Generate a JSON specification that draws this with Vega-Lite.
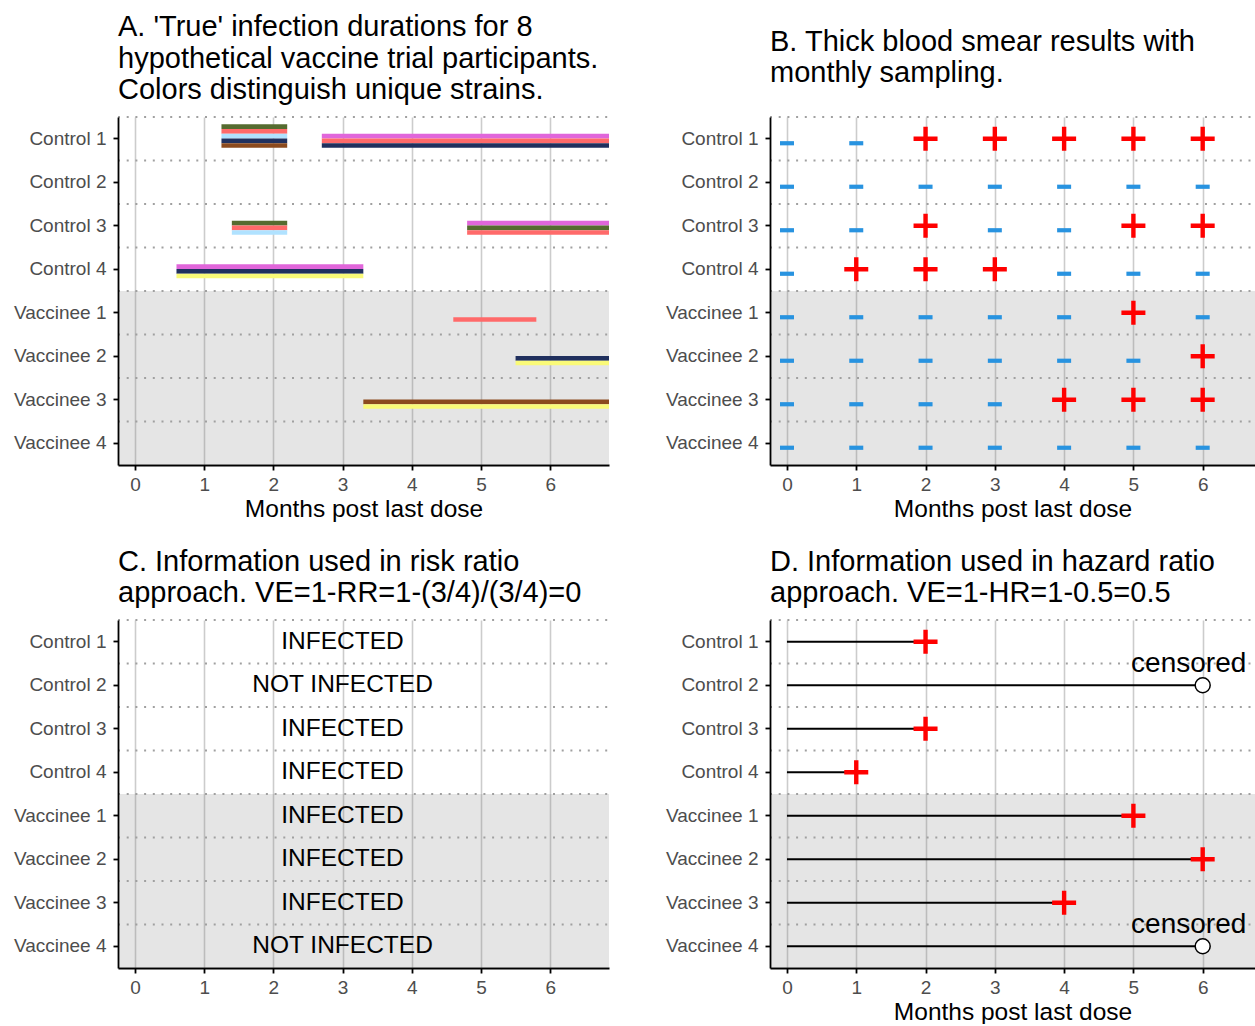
{
  "$schema": "https://vega.github.io/schema/vega-lite/v6.json",
  "padding": {"left": 10, "top": 13, "right": 0, "bottom": 0},
  "background": "white",
  "columns": 2,
  "spacing": {"row": 155, "column": 161},
  "bounds": "flush",
  "datasets": {
    "participants": [
      {"name": "Control 1", "group": "Control"},
      {"name": "Control 2", "group": "Control"},
      {"name": "Control 3", "group": "Control"},
      {"name": "Control 4", "group": "Control"},
      {"name": "Vaccinee 1", "group": "Vaccinee"},
      {"name": "Vaccinee 2", "group": "Vaccinee"},
      {"name": "Vaccinee 3", "group": "Vaccinee"},
      {"name": "Vaccinee 4", "group": "Vaccinee"}
    ],
    "strains": [
      {"name": "Control 1", "strain": "Strain 1", "start": 1.25, "end": 2.2, "level": 4},
      {"name": "Control 1", "strain": "Strain 2", "start": 1.25, "end": 2.2, "level": 3},
      {"name": "Control 1", "strain": "Strain 3", "start": 1.25, "end": 2.2, "level": 2},
      {"name": "Control 1", "strain": "Strain 4", "start": 1.25, "end": 2.2, "level": 1},
      {"name": "Control 1", "strain": "Strain 5", "start": 1.25, "end": 2.2, "level": 0},
      {"name": "Control 1", "strain": "Strain 6", "start": 2.7, "end": 6.85, "level": 2},
      {"name": "Control 1", "strain": "Strain 2", "start": 2.7, "end": 6.85, "level": 1},
      {"name": "Control 1", "strain": "Strain 4", "start": 2.7, "end": 6.85, "level": 0},
      {"name": "Control 3", "strain": "Strain 1", "start": 1.4, "end": 2.2, "level": 2},
      {"name": "Control 3", "strain": "Strain 2", "start": 1.4, "end": 2.2, "level": 1},
      {"name": "Control 3", "strain": "Strain 3", "start": 1.4, "end": 2.2, "level": 0},
      {"name": "Control 3", "strain": "Strain 6", "start": 4.8, "end": 6.85, "level": 2},
      {"name": "Control 3", "strain": "Strain 1", "start": 4.8, "end": 6.85, "level": 1},
      {"name": "Control 3", "strain": "Strain 2", "start": 4.8, "end": 6.85, "level": 0},
      {"name": "Control 4", "strain": "Strain 6", "start": 0.6, "end": 3.3, "level": 2},
      {"name": "Control 4", "strain": "Strain 4", "start": 0.6, "end": 3.3, "level": 1},
      {"name": "Control 4", "strain": "Strain 7", "start": 0.6, "end": 3.3, "level": 0},
      {"name": "Vaccinee 1", "strain": "Strain 2", "start": 4.6, "end": 5.8, "level": 0},
      {"name": "Vaccinee 2", "strain": "Strain 4", "start": 5.5, "end": 6.85, "level": 1},
      {"name": "Vaccinee 2", "strain": "Strain 7", "start": 5.5, "end": 6.85, "level": 0},
      {"name": "Vaccinee 3", "strain": "Strain 5", "start": 3.3, "end": 6.85, "level": 1},
      {"name": "Vaccinee 3", "strain": "Strain 7", "start": 3.3, "end": 6.85, "level": 0}
    ],
    "smear": [
      {"name": "Control 1", "month": 0, "result": "-"},
      {"name": "Control 1", "month": 1, "result": "-"},
      {"name": "Control 1", "month": 2, "result": "+"},
      {"name": "Control 1", "month": 3, "result": "+"},
      {"name": "Control 1", "month": 4, "result": "+"},
      {"name": "Control 1", "month": 5, "result": "+"},
      {"name": "Control 1", "month": 6, "result": "+"},
      {"name": "Control 2", "month": 0, "result": "-"},
      {"name": "Control 2", "month": 1, "result": "-"},
      {"name": "Control 2", "month": 2, "result": "-"},
      {"name": "Control 2", "month": 3, "result": "-"},
      {"name": "Control 2", "month": 4, "result": "-"},
      {"name": "Control 2", "month": 5, "result": "-"},
      {"name": "Control 2", "month": 6, "result": "-"},
      {"name": "Control 3", "month": 0, "result": "-"},
      {"name": "Control 3", "month": 1, "result": "-"},
      {"name": "Control 3", "month": 2, "result": "+"},
      {"name": "Control 3", "month": 3, "result": "-"},
      {"name": "Control 3", "month": 4, "result": "-"},
      {"name": "Control 3", "month": 5, "result": "+"},
      {"name": "Control 3", "month": 6, "result": "+"},
      {"name": "Control 4", "month": 0, "result": "-"},
      {"name": "Control 4", "month": 1, "result": "+"},
      {"name": "Control 4", "month": 2, "result": "+"},
      {"name": "Control 4", "month": 3, "result": "+"},
      {"name": "Control 4", "month": 4, "result": "-"},
      {"name": "Control 4", "month": 5, "result": "-"},
      {"name": "Control 4", "month": 6, "result": "-"},
      {"name": "Vaccinee 1", "month": 0, "result": "-"},
      {"name": "Vaccinee 1", "month": 1, "result": "-"},
      {"name": "Vaccinee 1", "month": 2, "result": "-"},
      {"name": "Vaccinee 1", "month": 3, "result": "-"},
      {"name": "Vaccinee 1", "month": 4, "result": "-"},
      {"name": "Vaccinee 1", "month": 5, "result": "+"},
      {"name": "Vaccinee 1", "month": 6, "result": "-"},
      {"name": "Vaccinee 2", "month": 0, "result": "-"},
      {"name": "Vaccinee 2", "month": 1, "result": "-"},
      {"name": "Vaccinee 2", "month": 2, "result": "-"},
      {"name": "Vaccinee 2", "month": 3, "result": "-"},
      {"name": "Vaccinee 2", "month": 4, "result": "-"},
      {"name": "Vaccinee 2", "month": 5, "result": "-"},
      {"name": "Vaccinee 2", "month": 6, "result": "+"},
      {"name": "Vaccinee 3", "month": 0, "result": "-"},
      {"name": "Vaccinee 3", "month": 1, "result": "-"},
      {"name": "Vaccinee 3", "month": 2, "result": "-"},
      {"name": "Vaccinee 3", "month": 3, "result": "-"},
      {"name": "Vaccinee 3", "month": 4, "result": "+"},
      {"name": "Vaccinee 3", "month": 5, "result": "+"},
      {"name": "Vaccinee 3", "month": 6, "result": "+"},
      {"name": "Vaccinee 4", "month": 0, "result": "-"},
      {"name": "Vaccinee 4", "month": 1, "result": "-"},
      {"name": "Vaccinee 4", "month": 2, "result": "-"},
      {"name": "Vaccinee 4", "month": 3, "result": "-"},
      {"name": "Vaccinee 4", "month": 4, "result": "-"},
      {"name": "Vaccinee 4", "month": 5, "result": "-"},
      {"name": "Vaccinee 4", "month": 6, "result": "-"}
    ],
    "risk": [
      {"name": "Control 1", "status": "INFECTED"},
      {"name": "Control 2", "status": "NOT INFECTED"},
      {"name": "Control 3", "status": "INFECTED"},
      {"name": "Control 4", "status": "INFECTED"},
      {"name": "Vaccinee 1", "status": "INFECTED"},
      {"name": "Vaccinee 2", "status": "INFECTED"},
      {"name": "Vaccinee 3", "status": "INFECTED"},
      {"name": "Vaccinee 4", "status": "NOT INFECTED"}
    ],
    "hazard": [
      {"name": "Control 1", "start": 0, "time": 2, "outcome": "infected"},
      {"name": "Control 2", "start": 0, "time": 6, "outcome": "censored"},
      {"name": "Control 3", "start": 0, "time": 2, "outcome": "infected"},
      {"name": "Control 4", "start": 0, "time": 1, "outcome": "infected"},
      {"name": "Vaccinee 1", "start": 0, "time": 5, "outcome": "infected"},
      {"name": "Vaccinee 2", "start": 0, "time": 6, "outcome": "infected"},
      {"name": "Vaccinee 3", "start": 0, "time": 4, "outcome": "infected"},
      {"name": "Vaccinee 4", "start": 0, "time": 6, "outcome": "censored"}
    ]
  },
  "concat": [
    {
      "width": 491, "height": 348,
      "title": {"text": ["A. 'True' infection durations for 8", "hypothetical vaccine trial participants.", "Colors distinguish unique strains."], "offset": 11},
      "layer": [
        {"data": {"name": "participants"}, "transform": [{"filter": "datum.group == 'Vaccinee'"}],
         "mark": {"type": "rect", "fill": "#7F7F7F", "opacity": 0.2},
         "encoding": {"y": {"field": "name", "type": "nominal", "title": null, "scale": {"domain": ["Control 1","Control 2","Control 3","Control 4","Vaccinee 1","Vaccinee 2","Vaccinee 3","Vaccinee 4"], "paddingInner": 0, "paddingOuter": 0}},
                      "x": {"value": 0}, "x2": {"value": "width"}}},
        {"data": {"name": "participants"},
         "mark": {"type": "rule", "color": "#A0A0A0", "strokeWidth": 2, "strokeDash": [2, 6.7]},
         "encoding": {"y": {"field": "name", "type": "nominal", "title": null, "bandPosition": 0}, "x": {"value": 0}, "x2": {"value": "width"}}},
        {"data": {"name": "strains"},
         "mark": {"type": "bar", "clip": true},
         "encoding": {
           "y": {"field": "name", "type": "nominal", "title": null},
           "yOffset": {"field": "level", "type": "ordinal", "scale": {"domain": [4,3,2,1,0], "range": [7.35, 30.85], "paddingInner": 0, "paddingOuter": 0}},
           "x": {"field": "start", "type": "quantitative", "title": "Months post last dose", "scale": {"domain": [-0.245, 6.85], "nice": false, "zero": false}, "axis": {"values": [0,1,2,3,4,5,6], "format": "d", "grid": true}},
           "x2": {"field": "end"},
           "color": {"field": "strain", "type": "nominal", "legend": null, "scale": {"domain": ["Strain 1","Strain 2","Strain 3","Strain 4","Strain 5","Strain 6","Strain 7"], "range": ["#556B2F","#FF6A6A","#B0E2FF","#20305E","#8B4A1E","#E066DA","#FAFA78"]}}
         }}
      ]
    },
    {
      "width": 485, "height": 348,
      "title": {"text": ["B. Thick blood smear results with", "monthly sampling."], "offset": 28},
      "layer": [
        {"data": {"name": "participants"}, "transform": [{"filter": "datum.group == 'Vaccinee'"}],
         "mark": {"type": "rect", "fill": "#7F7F7F", "opacity": 0.2},
         "encoding": {"y": {"field": "name", "type": "nominal", "title": null, "scale": {"domain": ["Control 1","Control 2","Control 3","Control 4","Vaccinee 1","Vaccinee 2","Vaccinee 3","Vaccinee 4"], "paddingInner": 0, "paddingOuter": 0}},
                      "x": {"value": 0}, "x2": {"value": "width"}}},
        {"data": {"name": "participants"},
         "mark": {"type": "rule", "color": "#A0A0A0", "strokeWidth": 2, "strokeDash": [2, 6.7]},
         "encoding": {"y": {"field": "name", "type": "nominal", "title": null, "bandPosition": 0}, "x": {"value": 0}, "x2": {"value": "width"}}},
        {"data": {"name": "smear"}, "transform": [{"filter": "datum.result == '-'"}],
         "mark": {"type": "point", "shape": "M-1,0H1", "filled": false, "color": "#2893E0", "strokeWidth": 4.2, "size": 196, "opacity": 1, "yOffset": 4.5},
         "encoding": {
           "y": {"field": "name", "type": "nominal", "title": null},
           "x": {"field": "month", "type": "quantitative", "title": "Months post last dose", "scale": {"domain": [-0.245, 6.755], "nice": false, "zero": false}, "axis": {"values": [0,1,2,3,4,5,6], "format": "d", "grid": true}}
         }},
        {"data": {"name": "smear"}, "transform": [{"filter": "datum.result == '+'"}],
         "mark": {"type": "point", "shape": "M-1,0H1M0,-1V1", "filled": false, "color": "#FF0000", "strokeWidth": 4.4, "size": 576, "opacity": 1},
         "encoding": {
           "y": {"field": "name", "type": "nominal", "title": null},
           "x": {"field": "month", "type": "quantitative", "title": "Months post last dose"}
         }}
      ]
    },
    {
      "width": 491, "height": 348,
      "title": {"text": ["C. Information used in risk ratio", "approach. VE=1-RR=1-(3/4)/(3/4)=0"], "offset": 11},
      "layer": [
        {"data": {"name": "participants"}, "transform": [{"filter": "datum.group == 'Vaccinee'"}],
         "mark": {"type": "rect", "fill": "#7F7F7F", "opacity": 0.2},
         "encoding": {"y": {"field": "name", "type": "nominal", "title": null, "scale": {"domain": ["Control 1","Control 2","Control 3","Control 4","Vaccinee 1","Vaccinee 2","Vaccinee 3","Vaccinee 4"], "paddingInner": 0, "paddingOuter": 0}},
                      "x": {"value": 0}, "x2": {"value": "width"}}},
        {"data": {"name": "participants"},
         "mark": {"type": "rule", "color": "#A0A0A0", "strokeWidth": 2, "strokeDash": [2, 6.7]},
         "encoding": {"y": {"field": "name", "type": "nominal", "title": null, "bandPosition": 0}, "x": {"value": 0}, "x2": {"value": "width"}}},
        {"data": {"name": "risk"},
         "mark": {"type": "text", "fontSize": 24.5, "color": "black", "align": "center", "baseline": "middle"},
         "encoding": {
           "y": {"field": "name", "type": "nominal", "title": null},
           "x": {"datum": 3, "type": "quantitative", "title": "Months post last dose", "scale": {"domain": [-0.245, 6.85], "nice": false, "zero": false}, "axis": {"values": [0,1,2,3,4,5,6], "format": "d", "grid": true}},
           "text": {"field": "status"}
         }}
      ]
    },
    {
      "width": 485, "height": 348,
      "title": {"text": ["D. Information used in hazard ratio", "approach. VE=1-HR=1-0.5=0.5"], "offset": 11},
      "layer": [
        {"data": {"name": "participants"}, "transform": [{"filter": "datum.group == 'Vaccinee'"}],
         "mark": {"type": "rect", "fill": "#7F7F7F", "opacity": 0.2},
         "encoding": {"y": {"field": "name", "type": "nominal", "title": null, "scale": {"domain": ["Control 1","Control 2","Control 3","Control 4","Vaccinee 1","Vaccinee 2","Vaccinee 3","Vaccinee 4"], "paddingInner": 0, "paddingOuter": 0}},
                      "x": {"value": 0}, "x2": {"value": "width"}}},
        {"data": {"name": "participants"},
         "mark": {"type": "rule", "color": "#A0A0A0", "strokeWidth": 2, "strokeDash": [2, 6.7]},
         "encoding": {"y": {"field": "name", "type": "nominal", "title": null, "bandPosition": 0}, "x": {"value": 0}, "x2": {"value": "width"}}},
        {"data": {"name": "hazard"},
         "mark": {"type": "rule", "color": "black", "strokeWidth": 2},
         "encoding": {
           "y": {"field": "name", "type": "nominal", "title": null},
           "x": {"field": "start", "type": "quantitative", "title": "Months post last dose", "scale": {"domain": [-0.245, 6.755], "nice": false, "zero": false}, "axis": {"values": [0,1,2,3,4,5,6], "format": "d", "grid": true}},
           "x2": {"field": "time"}
         }},
        {"data": {"name": "hazard"}, "transform": [{"filter": "datum.outcome == 'infected'"}],
         "mark": {"type": "point", "shape": "M-1,0H1M0,-1V1", "filled": false, "color": "#FF0000", "strokeWidth": 4.4, "size": 576, "opacity": 1},
         "encoding": {
           "y": {"field": "name", "type": "nominal", "title": null},
           "x": {"field": "time", "type": "quantitative", "title": "Months post last dose"}
         }},
        {"data": {"name": "hazard"}, "transform": [{"filter": "datum.outcome == 'censored'"}],
         "mark": {"type": "point", "shape": "circle", "filled": true, "fill": "white", "stroke": "black", "strokeWidth": 1.5, "size": 225, "opacity": 1},
         "encoding": {
           "y": {"field": "name", "type": "nominal", "title": null},
           "x": {"field": "time", "type": "quantitative", "title": "Months post last dose"}
         }},
        {"data": {"name": "hazard"}, "transform": [{"filter": "datum.outcome == 'censored'"}],
         "mark": {"type": "text", "fontSize": 28, "color": "black", "align": "center", "baseline": "middle", "dx": -14, "dy": -21},
         "encoding": {
           "y": {"field": "name", "type": "nominal", "title": null},
           "x": {"field": "time", "type": "quantitative", "title": "Months post last dose"},
           "text": {"field": "outcome"}
         }}
      ]
    }
  ],
  "config": {
    "font": "Liberation Sans",
    "view": {"stroke": null},
    "axis": {
      "domainColor": "black", "domainWidth": 1.8, "tickColor": "black", "tickWidth": 1.8, "tickSize": 5,
      "labelColor": "#4D4D4D", "labelFontSize": 19, "labelFont": "Liberation Sans",
      "titleFont": "Liberation Sans", "titleFontSize": 24.5, "titleFontWeight": "normal", "titleColor": "black",
      "gridColor": "#CCCCCC", "gridWidth": 1.6
    },
    "axisY": {"grid": false, "labelPadding": 7, "minExtent": 108, "maxExtent": 108},
    "axisX": {"labelPadding": 5, "titlePadding": 3},
    "title": {"anchor": "start", "frame": "group", "font": "Liberation Sans", "fontSize": 29, "fontWeight": "normal", "color": "black", "lineHeight": 31.5, "baseline": "alphabetic"}
  }
}
